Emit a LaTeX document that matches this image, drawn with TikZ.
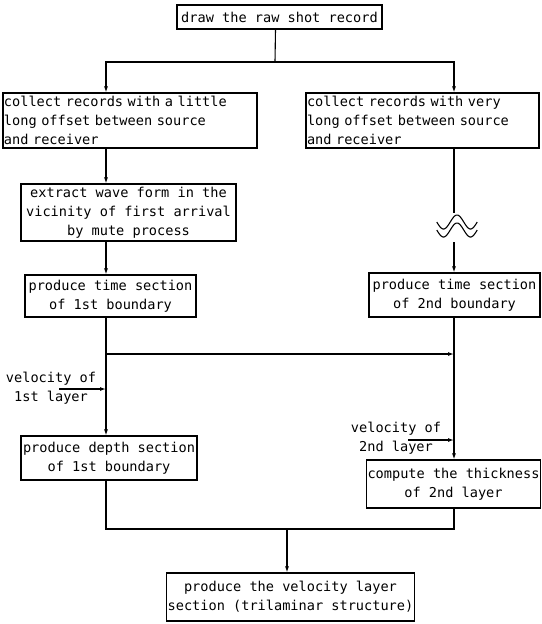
\documentclass[tikz,border=0pt]{standalone}
\usepackage{fontspec}
\setmonofont{DejaVu Sans Mono}
\usetikzlibrary{arrows.meta}

\begin{document}
\begin{tikzpicture}[x=1pt, y=-1pt,
    >={Latex[length=6pt,width=4pt]},
    every path/.style={line width=1.1pt},
    box/.style ={draw, rectangle, inner sep=1pt, align=center,
      font=\ttfamily\fontsize{13.6}{19}\selectfont},
    note/.style ={inner sep=0pt, align=center,
      font=\ttfamily\fontsize{13.6}{18.5}\selectfont}]
   \useasboundingbox (0,0) rectangle (541,624);
   % columns of the two branches
   \coordinate (lcol) at (106,0);
   \coordinate (rcol) at (454,0);
   \node[box, minimum width=205pt, minimum height=24pt] (raw) at (279.5,17) {draw the raw shot record};
   \node[box, text width=252pt, minimum height=55pt, align=left] (nearrec) at (130,120.5)
     {collect records with a little\\long offset between source\\and receiver};
   \node[box, text width=231pt, minimum height=55pt, align=left] (farrec) at (422.5,120.5)
     {collect records with very\\long offset between source\\and receiver};
   \node[box, minimum width=215pt, minimum height=57pt] (mute) at (128.5,212.5)
     {extract wave form in the\\vicinity of first arrival\\by mute process};
   \node[box, minimum width=171pt, minimum height=42pt] (time1) at (110.5,296)
     {produce time section\\of 1st boundary};
   \node[box, minimum width=171pt, minimum height=44pt] (time2) at (454.5,295)
     {produce time section\\of 2nd boundary};
   \node[box, minimum width=176pt, minimum height=44pt] (depth1) at (109,458)
     {produce depth section\\of 1st boundary};
   \node[box, minimum width=173pt, minimum height=48pt] (thick2) at (453.5,484)
     {compute the thickness\\of 2nd layer};
   \node[box, minimum width=245pt, minimum height=48pt] (velsec) at (290.5,597)
     {produce the velocity layer\\section (trilaminar structure)};
   \node[note] (vel1) at (51,388) {velocity of\\1st layer};
   \node[note] (vel2) at (396,438) {velocity of\\2nd layer};
   % split below the first box
   \coordinate (split) at (275,62);
   \draw ([xshift=-4pt]raw.south) -- (split);
   \draw[->] (split) -| (nearrec.north -| lcol);
   \draw[->] (split) -| (farrec.north -| rcol);
   % left branch
   \draw[->] (nearrec.south -| lcol) -- (mute.north -| lcol);
   \draw[->] (mute.south -| lcol) -- (time1.north -| lcol);
   \draw[->] (time1.south -| lcol) -- (depth1.north -| lcol);
   \coordinate (tee) at (106,354);
   \draw[->] (tee) -- (tee -| rcol);
   \coordinate (v1in) at (59,389);
   \draw[->] (v1in) -- (v1in -| lcol);
   % right branch, broken by the wave mark
   \coordinate (wavetop) at (454,213);
   \coordinate (wavebot) at (454,242);
   \draw (farrec.south -| rcol) -- (wavetop);
   \draw plot[domain=-1.5:1.5, samples=40, smooth] ({457+13.5*\x}, {222-7*cos(\x*180)});
   \draw plot[domain=-1.5:1.5, samples=40, smooth] ({457+13.5*\x}, {230-7*cos(\x*180)});
   \draw[->] (wavebot) -- (time2.north -| rcol);
   \draw[->] (time2.south -| rcol) -- (thick2.north -| rcol);
   \coordinate (v2in) at (408,440);
   \draw[->] (v2in) -- (v2in -| rcol);
   % join to the last box
   \coordinate (merge) at (287,529);
   \draw (depth1.south -| lcol) |- (merge);
   \draw (thick2.south -| rcol) |- (merge);
   \draw[->] (merge) -- (velsec.north -| merge);
 \end{tikzpicture}
\end{document}
